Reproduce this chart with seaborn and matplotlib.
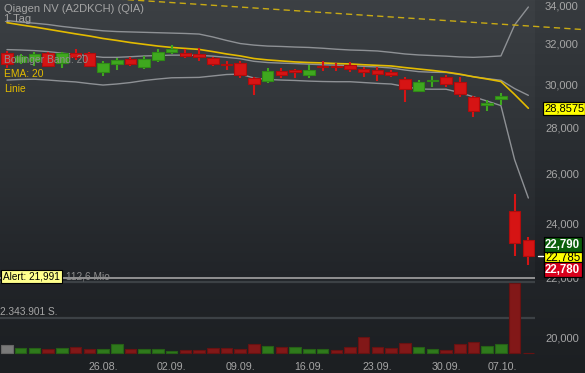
import numpy as np
import pandas as pd
import matplotlib
matplotlib.use("Agg")
import matplotlib.pyplot as plt
import matplotlib.transforms as mtransforms
from matplotlib.ticker import NullLocator
import seaborn as sns

# ---------------- data ----------------
dates = ["15.08.", "16.08.", "19.08.", "20.08.", "21.08.", "22.08.", "23.08.",
         "26.08.", "27.08.", "28.08.", "29.08.", "30.08.",
         "02.09.", "03.09.", "04.09.", "05.09.", "06.09.",
         "09.09.", "10.09.", "11.09.", "12.09.", "13.09.",
         "16.09.", "17.09.", "18.09.", "19.09.", "20.09.",
         "23.09.", "24.09.", "25.09.", "26.09.", "27.09.",
         "30.09.", "01.10.", "02.10.", "03.10.", "04.10.",
         "07.10.", "08.10."]

opens = [31.51, 31.08, 31.13, 31.51, 31.03, 31.51, 31.51, 30.58, 30.96, 31.21,
         30.81, 31.18, 31.56, 31.51, 31.46, 31.26, 30.96, 31.01, 30.27, 30.14,
         30.63, 30.68, 30.44, 30.88, 30.90, 30.93, 30.71, 30.68, 30.57, 30.23,
         29.68, 30.13, 30.32, 30.11, 29.36, 29.03, 29.29, 24.48, 23.38]
highs = [31.65, 31.48, 31.58, 31.58, 31.58, 31.71, 31.58, 31.13, 31.26, 31.31,
         31.38, 31.73, 31.93, 31.73, 31.78, 31.31, 31.13, 31.13, 30.34, 30.80,
         30.80, 30.75, 30.93, 31.13, 31.05, 31.10, 30.81, 30.81, 30.68, 30.32,
         30.19, 30.39, 30.44, 30.32, 29.43, 29.24, 29.56, 25.15, 23.49]
lows = [30.78, 30.98, 30.88, 30.83, 30.78, 31.18, 30.83, 30.39, 30.68, 30.86,
        30.73, 31.08, 31.48, 31.28, 31.11, 30.86, 30.68, 30.31, 29.46, 30.07,
        30.29, 30.29, 30.31, 30.61, 30.63, 30.59, 30.35, 30.16, 30.35, 29.16,
        29.60, 29.87, 29.87, 29.40, 28.46, 28.72, 29.03, 22.79, 22.45]
closes = [30.96, 31.38, 31.48, 30.86, 31.51, 31.31, 30.88, 31.03, 31.18, 30.96,
          31.23, 31.56, 31.71, 31.36, 31.31, 30.96, 30.91, 30.44, 30.02, 30.63,
          30.46, 30.58, 30.68, 30.83, 30.82, 30.71, 30.59, 30.48, 30.44, 29.75,
          30.08, 30.19, 30.00, 29.51, 28.74, 29.08, 29.43, 23.26, 22.785]

ema20 = [33.10, 32.98, 32.87, 32.75, 32.63, 32.51, 32.40, 32.27, 32.17, 32.06,
         31.97, 31.88, 31.81, 31.76, 31.71, 31.60, 31.48, 31.38, 31.25, 31.18,
         31.13, 31.08, 31.05, 31.03, 31.00, 30.98, 30.94, 30.91, 30.88, 30.80,
         30.73, 30.66, 30.58, 30.48, 30.35, 30.24, 30.12, 29.50, 28.8575]
bb_upper = [33.21, 33.13, 33.07, 33.00, 32.90, 32.82, 32.74, 32.67, 32.63, 32.61,
            32.59, 32.57, 32.55, 32.53, 32.50, 32.35, 32.17, 32.01, 31.93, 31.88,
            31.86, 31.83, 31.81, 31.77, 31.72, 31.68, 31.66, 31.63, 31.56, 31.48,
            31.43, 31.40, 31.37, 31.33, 31.31, 31.34, 31.38, 32.98, 33.94]
bb_middle = [31.70, 31.68, 31.65, 31.60, 31.52, 31.46, 31.38, 31.31, 31.31, 31.34,
             31.38, 31.40, 31.42, 31.42, 31.41, 31.37, 31.31, 31.24, 31.11, 31.05,
             31.02, 31.00, 30.97, 30.94, 30.92, 30.90, 30.86, 30.83, 30.78, 30.68,
             30.60, 30.57, 30.56, 30.46, 30.35, 30.26, 30.18, 29.78, 29.46]
bb_lower = [30.19, 30.22, 30.23, 30.19, 30.14, 30.10, 30.02, 29.95, 30.00, 30.07,
            30.17, 30.24, 30.30, 30.31, 30.32, 30.39, 30.46, 30.48, 30.29, 30.22,
            30.19, 30.17, 30.14, 30.12, 30.11, 30.11, 30.07, 30.03, 30.00, 29.88,
            29.76, 29.75, 29.75, 29.59, 29.39, 29.19, 28.98, 26.57, 24.99]

volumes = [562e3, 362e3, 315e3, 295e3, 315e3, 402e3, 268e3, 268e3, 583e3, 295e3,
           248e3, 295e3, 161e3, 228e3, 228e3, 335e3, 335e3, 295e3, 583e3, 496e3,
           429e3, 429e3, 295e3, 248e3, 181e3, 382e3, 1072e3, 402e3, 335e3, 696e3,
           402e3, 295e3, 228e3, 630e3, 737e3, 469e3, 630e3, 4688e3, 0]
volume_dir = ["flat", "up", "up", "down", "up", "down", "down", "up", "up", "down",
              "up", "up", "up", "down", "down", "down", "down", "down", "down", "up",
              "down", "up", "up", "up", "down", "down", "down", "down", "down", "down",
              "up", "up", "down", "down", "down", "up", "up", "down", "down"]

date_ticks = ["26.08.", "02.09.", "09.09.", "16.09.", "23.09.", "30.09.", "07.10."]
price_ticks = [20, 22, 24, 26, 28, 30, 32, 34]
price_tick_labels = ["20,000", "22,000", "24,000", "26,000", "28,000", "30,000", "32,000", "34,000"]

trend_x = [8.0, 42.1]
trend_y = [34.38, 32.73]

alert_level = 21.991
vol_mid_line = 2343901
vol_top_line = 4760000
quote_bid, quote_last, quote_ask = 22.780, 22.785, 22.790

title = "Qiagen NV (A2DKCH) (QIA)"
period = "1 Tag"

# ---------------- style ----------------
sns.set_theme(style="dark", rc={"axes.facecolor": "none", "figure.facecolor": "#2c2f33"})
plt.rcParams["font.family"] = ["Liberation Sans", "DejaVu Sans"]

W, H = 585, 373
fig = plt.figure(figsize=(W / 100, H / 100), dpi=100)

# background gradient
bg = fig.add_axes([0, 0, 1, 1], zorder=-5)
bg.set_axis_off()
yy = np.arange(H)
stops_y = [0, 150, 280, 373]
cols = np.array([[60, 64, 68], [46, 50, 54], [33, 36, 40], [28, 31, 34]], float)
grad = np.stack([np.interp(yy, stops_y, cols[:, k]) for k in range(3)], axis=1)
img = np.repeat(grad[:, None, :], W, axis=1)
strip = np.arange(W) >= 535
img[:280, strip, :] -= 5
bg.imshow(np.clip(img, 0, 255) / 255, extent=[0, 1, 0, 1], aspect="auto",
          origin="upper", interpolation="nearest")

ax_pos = [0, 18 / H, 535 / W, 355 / H]
vol = fig.add_axes(ax_pos, zorder=1)
ax = fig.add_axes(ax_pos, zorder=2)
for a in (ax, vol):
    a.patch.set_visible(False)
    for s in a.spines.values():
        s.set_visible(False)
    a.grid(False)

idx = np.arange(len(dates))
xlim = (-0.51, -0.51 + 535 / 13.72)

# ---------------- volume ----------------
vcol = {"up": "#2f7a1c", "down": "#821818", "flat": "#7a7a7a"}
vedge = {"up": "#255f16", "down": "#661212", "flat": "#666666"}
vol.bar(idx, volumes, width=0.84, color=[vcol[d] for d in volume_dir],
        edgecolor=[vedge[d] for d in volume_dir], linewidth=0.8, zorder=2)
spx = vol_mid_line / 35.0
vol.set_ylim(-2 * spx, 353 * spx)
vol.set_xlim(*xlim)
vol.axhline(vol_mid_line, color="#3c4145", lw=1.6, zorder=1)
vol.axhline(vol_top_line, color="#3c4145", lw=1.6, zorder=1)
vol.set_xticks([])
vol.set_yticks([])

# ---------------- price ----------------
df = pd.DataFrame({"idx": idx, "ema": ema20, "up": bb_upper, "mid": bb_middle, "lo": bb_lower})
for col in ["up", "mid", "lo"]:
    sns.lineplot(data=df, x="idx", y=col, ax=ax, color="#8e9195", lw=1.0, zorder=2)
sns.lineplot(data=df, x="idx", y="ema", ax=ax, color="#e3bb00", lw=1.2, zorder=2.5)

o = np.array(opens); c = np.array(closes); hi = np.array(highs); lo = np.array(lows)
up = c >= o
fill = np.where(up, "#3fa81f", "#d61414")
edge = np.where(up, "#2f8a16", "#b00c0c")
ax.vlines(idx, lo, hi, colors=fill, lw=1.5, zorder=3)
ax.bar(idx, np.abs(c - o), bottom=np.minimum(o, c), width=0.84, color=fill,
       edgecolor=edge, linewidth=0.8, zorder=4)

ax.plot(trend_x, trend_y, color="#c8aa14", lw=1.0, ls=(0, (4.5, 3)), clip_on=False, zorder=5)
ax.axhline(alert_level, color="#a3a3a3", lw=1.2, zorder=2)

ax.set_yscale("log")
ax.set_ylim(19.432, 34.323)
ax.set_xlim(*xlim)
ax.set_xlabel("")
ax.set_ylabel("")
ax.yaxis.tick_right()
ax.set_yticks(price_ticks)
ax.set_yticklabels(price_tick_labels)
ax.yaxis.set_minor_locator(NullLocator())
ax.tick_params(axis="y", length=0, pad=7.2, labelsize=8, labelcolor="#a6a6a6")
ax.set_xticks([])

# date labels
dtrans = mtransforms.blended_transform_factory(ax.transData, ax.transAxes)
for lab in date_ticks:
    pos = dates.index(lab)
    tr = dtrans
    if pos == len(dates) - 2:
        tr = dtrans + mtransforms.ScaledTranslation(-12.5 / 100, 0, fig.dpi_scale_trans)
    ax.text(pos, -0.033, lab, transform=tr, ha="center", va="center",
            fontsize=7.7, color="#a6a6a6", clip_on=False)

# ---------------- texts ----------------
def ftxt(x, y, s, **kw):
    fig.text(x / W, 1 - y / H, s, **kw)

ftxt(4, 8.5, title, fontsize=8, color="#a4a4a4", va="center", ha="left")
ftxt(4, 18.5, period, fontsize=8, color="#a4a4a4", va="center", ha="left")
ftxt(4, 60, "Bollinger Band: 20", fontsize=7.4, color="#8e8e8e", va="center", ha="left", zorder=6)
ftxt(4, 74, "EMA: 20", fontsize=7.4, color="#e3bb00", va="center", ha="left", zorder=6)
ftxt(4, 88.5, "Linie", fontsize=7.4, color="#e3bb00", va="center", ha="left", zorder=6)
ftxt(66, 276.5, "112,6 Mio", fontsize=7.3, color="#8e8e8e", va="center", ha="left")
ftxt(0, 312, "2.343.901 S.", fontsize=7.3, color="#a6a6a6", va="center", ha="left")
ftxt(3, 276.5, "Alert: " + f"{alert_level:.3f}".replace(".", ","), fontsize=7.2, color="black",
     va="center", ha="left", zorder=7,
     bbox=dict(boxstyle="square,pad=0.18", fc="#ffff8c", ec="black", lw=0.8))

ptrans = mtransforms.blended_transform_factory(fig.transFigure, ax.transData)
def pbox(val, dy, s, fc, tc, bold=False, x=545, size=8.3):
    t = ax.text(x / W, val, s, transform=ptrans, fontsize=size, color=tc,
                fontweight="bold" if bold else "normal", va="center", ha="left",
                clip_on=False, zorder=8,
                bbox=dict(boxstyle="square,pad=0.12", fc=fc, ec="black", lw=0.9))
    t.set_transform(ptrans + mtransforms.ScaledTranslation(0, -dy / 100, fig.dpi_scale_trans))

pbox(ema20[-1], 0, f"{ema20[-1]:.4f}".replace(".", ","), "#ffff00", "black", x=544, size=8.0)
pbox(quote_last, 1.5, f"{quote_last:.3f}".replace(".", ","), "#ffff00", "black")
pbox(quote_last, -11, f"{quote_ask:.3f}".replace(".", ","), "#0a5e0a", "white", True)
pbox(quote_last, 14, f"{quote_bid:.3f}".replace(".", ","), "#d8001c", "white", True)
ax.plot([538 / W, 542.5 / W], [quote_last, quote_last], transform=ptrans, color="white",
        lw=1.0, clip_on=False, zorder=8)

fig.savefig("out.png", dpi=100)
